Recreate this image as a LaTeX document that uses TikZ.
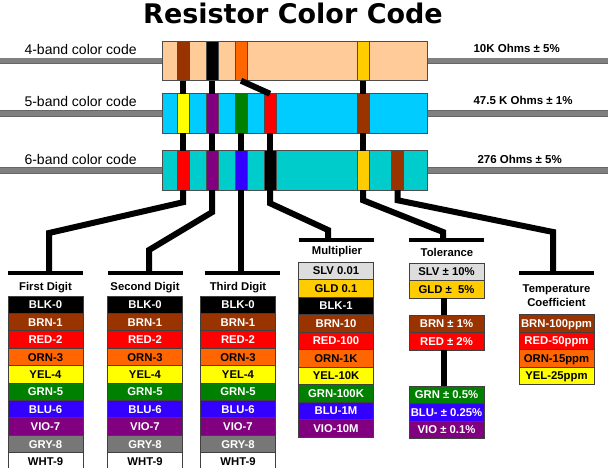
\documentclass[tikz,border=0pt]{standalone}
\usepackage{fontspec}
\setmainfont{Liberation Sans}
\newfontfamily\titlefont{DejaVu Sans}
\usetikzlibrary{positioning}

\definecolor{rcBrn}{HTML}{993300}
\definecolor{rcRed}{HTML}{FF0000}
\definecolor{rcOrn}{HTML}{FF6600}
\definecolor{rcYel}{HTML}{FFFF00}
\definecolor{rcGld}{HTML}{FFCC00}
\definecolor{rcGrn}{HTML}{008000}
\definecolor{rcBlu}{HTML}{3300FF}
\definecolor{rcVio}{HTML}{800080}
\definecolor{rcGry}{HTML}{777777}
\definecolor{rcSlv}{HTML}{DDDDDD}
\definecolor{bodyA}{HTML}{FFCC99}
\definecolor{bodyB}{HTML}{00CCFF}
\definecolor{bodyC}{HTML}{00CCCC}

\begin{document}
\begin{tikzpicture}[
    x=1pt, y=-1pt,
    titletxt/.style = {font=\titlefont\bfseries\fontsize{27}{30}\selectfont},
    body/.style     = {draw=black!70, line width=0.8pt, minimum width=265pt, minimum height=39.5pt, inner sep=0pt, outer sep=0pt},
    band/.style     = {draw=black!70, line width=0.6pt, minimum width=12pt, minimum height=39.5pt, inner sep=0pt, outer sep=0pt},
    lead/.style     = {draw=black!60, line width=0.7pt, double=gray, double distance=5pt},
    wire/.style     = {line width=6pt},
    tee/.style      = {line width=3.5pt},
    label/.style    = {font=\fontsize{14}{16}\selectfont, anchor=west},
    value/.style    = {font=\bfseries\fontsize{11.5}{13}\selectfont, anchor=west},
    head/.style     = {font=\bfseries\fontsize{11.3}{14}\selectfont, align=center},
    cell/.style     = {draw=black!75, line width=0.8pt, minimum width=75pt, minimum height=17.5pt,
                       inner sep=0pt, outer sep=0pt, text height=8.1pt, text depth=0pt,
                       font=\bfseries\fontsize{11.3}{13}\selectfont, anchor=north}
  ]
  \useasboundingbox (0,0) rectangle (608,468);

  % title
  \node[titletxt, anchor=base] (title) at (293,23.5) {Resistor Color Code};

  % leads and bodies
  \foreach \r/\y/\c in {4/61/bodyA, 5/113.5/bodyB, 6/170.5/bodyC} {
    \draw[lead] (0,\y) -- (608,\y);
    \node[body, fill=\c] (r\r) at (294.5,\y) {};
  }

  % colour bands
  \foreach \n/\x/\c in {a/183/rcBrn, b/212/black, c/241/rcOrn, e/363/rcGld}
    \node[band, fill=\c] (k4\n) at (\x,61) {};
  \foreach \n/\x/\c in {a/183/rcYel, b/212/rcVio, c/241/rcGrn, d/270/rcRed, e/363/rcBrn}
    \node[band, fill=\c] (k5\n) at (\x,113.5) {};
  \foreach \n/\x/\c in {a/183/rcRed, b/212/rcVio, c/241/rcBlu, d/270/black, e/363/rcGld, f/397.5/rcBrn}
    \node[band, fill=\c] (k6\n) at (\x,170.5) {};

  % names and values
  \node[label] (n4) at (21,49)    {4-band color code};
  \node[label] (n5) at (21,101)   {5-band color code};
  \node[label] (n6) at (21,159)   {6-band color code};
  \node[value] (v4) at (470,48)   {10K Ohms ± 5\%};
  \node[value] (v5) at (470,100.5) {47.5 K Ohms ± 1\%};
  \node[value] (v6) at (474,159)  {276 Ohms ± 5\%};

  % links between the three codes
  \foreach \n in {a,b,e}
    \draw[wire] (k4\n.south) -- (k5\n.north);
  \draw[wire] (k4c.south) -- (k5d.north);
  \foreach \n in {a,b,c,d,e}
    \draw[wire] (k5\n.south) -- (k6\n.north);

  % links down to the tables
  \coordinate (tFD) at (45.5,273);
  \coordinate (tSD) at (145,273);
  \coordinate (tTD) at (242,273);
  \coordinate (tMU) at (336,240);
  \coordinate (tTO) at (446.5,240);
  \coordinate (tTC) at (556.5,273);
  \coordinate (bFD) at (49,233);
  \coordinate (bSD) at (149,250);
  \coordinate (bMU) at (328,230);
  \coordinate (bTO) at (443,232);
  \coordinate (bTC) at (553,232);

  \draw[wire] (k6a.south) -- ++(0,12) -- (bFD) -- (bFD |- tFD);
  \draw[wire] (k6b.south) -- ++(0,22) -- (bSD) -- (bSD |- tSD);
  \draw[wire] (k6c.south) -- (k6c.south |- tTD);
  \draw[wire] (k6d.south) -- ++(0,13) -- (bMU) -- (bMU |- tMU);
  \draw[wire] (k6e.south) -- ++(0,10) -- (bTO) -- (bTO |- tTO);
  \draw[wire] (k6f.south) -- ++(0,10) -- (bTC) -- (bTC |- tTC);
  \foreach \t in {tFD,tSD,tTD,tMU,tTO,tTC}
    \draw[tee] ([xshift=-37.5pt]\t) -- ([xshift=37.5pt]\t);

  % headings
  \node[head, anchor=base] (hFD) at (45.5,290.7) {First Digit};
  \node[head, anchor=base] (hSD) at (145,290.7)  {Second Digit};
  \node[head, anchor=base] (hTD) at (238,290.7)  {Third Digit};
  \node[head, anchor=base] (hMU) at (337,254.3)  {Multiplier};
  \node[head, anchor=base] (hTO) at (447,256)    {Tolerance};
  \node[head, anchor=north, inner sep=0pt] (hTC) at (556.5,284.3) {Temperature\\Coefficient};

  % digit tables
  \foreach \col/\x in {fd/45.5, sd/145, td/238}
    \foreach \c/\t/\s [count=\i from 0] in {black/white/BLK-0, rcBrn/white/BRN-1, rcRed/white/RED-2,
        rcOrn/black/ORN-3, rcYel/black/YEL-4, rcGrn/white/GRN-5, rcBlu/white/BLU-6,
        rcVio/white/VIO-7, rcGry/white/GRY-8, white/black/WHT-9}
      \node[cell, fill=\c, text=\t] (\col\i) at (\x,296+17.4*\i) {\s};

  % multiplier table
  \foreach \c/\t/\s [count=\i from 0] in {rcSlv/black/SLV 0.01, rcGld/black/GLD 0.1, black/white/BLK-1,
      rcBrn/white/BRN-10, rcRed/white/RED-100, rcOrn/black/ORN-1K, rcYel/black/YEL-10K,
      rcGrn/white/GRN-100K, rcBlu/white/BLU-1M, rcVio/white/VIO-10M}
    \node[cell, fill=\c, text=\t] (mu\i) at (336,262+17.5*\i) {\s};

  % tolerance table
  \foreach \c/\t/\y/\s [count=\i] in {rcSlv/black/263/SLV ± 10\%, rcGld/black/280.5/GLD ± \ 5\%,
      rcBrn/white/315/BRN ± 1\%, rcRed/white/332.5/RED ± 2\%,
      rcGrn/white/386/GRN ± 0.5\%, rcBlu/white/403.5/BLU- ± 0.25\%, rcVio/white/421/VIO ± 0.1\%}
    \node[cell, fill=\c, text=\t] (to\i) at (446.5,\y) {\s};
  \draw[wire] ([xshift=-3pt]to2.south) -- ([xshift=-3pt]to3.north);
  \draw[wire] ([xshift=-3pt]to4.south) -- ([xshift=-3pt]to5.north);

  % temperature coefficient table
  \foreach \c/\t/\s [count=\i from 0] in {rcBrn/white/BRN-100ppm, rcRed/white/RED-50ppm,
      rcOrn/black/ORN-15ppm, rcYel/black/YEL-25ppm}
    \node[cell, fill=\c, text=\t] (tc\i) at (556.5,314.5+17.5*\i) {\s};
\end{tikzpicture}
\end{document}
